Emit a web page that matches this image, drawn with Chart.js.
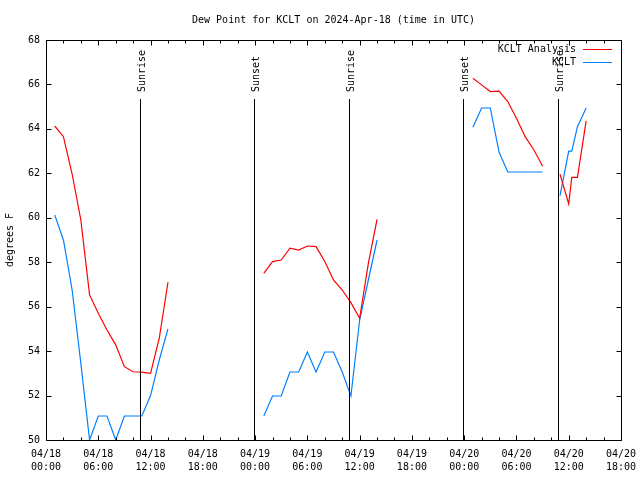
<!DOCTYPE html>
<html>
<head>
<meta charset="utf-8">
<script src="https://cdn.jsdelivr.net/npm/chart.js@4.4.1/dist/chart.umd.min.js"></script>
<style>
  html, body { margin: 0; padding: 0; background: #fff; }
</style>
</head>
<body>
<canvas id="dewChart" width="640" height="480"></canvas>
<script>
// hours since 04/18 00:00 UTC, one value per hour starting at firstHour
const firstHour = 1;
const analysisValues = [
  64.13, 63.65, 61.97, 59.9, 56.53, 55.7, 54.95, 54.28, 53.3, 53.07, 53.05, 53.0, 54.58, 57.1,
  null, null, null, null, null, null, null, null, null, null,
  57.5, 58.03, 58.1, 58.63, 58.55, 58.73, 58.7, 58.03, 57.2, 56.75, 56.18, 55.48, 57.95, 59.93,
  null, null, null, null, null, null, null, null, null, null,
  66.28, 65.98, 65.68, 65.7, 65.23, 64.48, 63.65, 63.05, 62.33,
  null,
  61.96, 60.62, 61.82, 64.36
];
const obsValues = [
  60.13, 59.0, 56.75, 53.45, 50.0, 51.08, 51.08, 50.0, 51.08, 51.08, 51.08, 52.0, 53.6, 55.0,
  null, null, null, null, null, null, null, null, null, null,
  51.08, 51.98, 51.98, 53.06, 53.06, 53.96, 53.06, 53.96, 53.96, 53.06, 51.98, 55.4, 57.2, 59.0,
  null, null, null, null, null, null, null, null, null, null,
  64.07, 64.94, 64.94, 62.96, 62.06, 62.06, 62.06, 62.06, 62.06,
  null,
  61.0, 63.0, 64.1, 64.94
];
// one off-hour report
const extraHours = [60.35];
const analysisExtra = [61.82];
const obsExtra = [63.0];

const sunHours = [10.8, 23.9, 34.8, 47.9, 58.8];
const sunLabels = ['Sunrise', 'Sunset', 'Sunrise', 'Sunset', 'Sunrise'];
const titleText = 'Dew Point for KCLT on 2024-Apr-18 (time in UTC)';
const startDay = 18;
const xMax = 66;
const yMin = 50, yMax = 68;

const FONT = 'DejaVu Sans Mono';
const pad2 = n => String(n).padStart(2, '0');

function toPoints(values, extra) {
  const pts = values.map((v, i) => ({ x: firstHour + i, y: v }));
  extraHours.forEach((h, i) => pts.push({ x: h, y: extra[i] }));
  return pts.sort((p, q) => p.x - q.x);
}

// gnuplot-like frame, inward ticks, sun markers, title and legend
const gnuFrame = {
  id: 'gnuFrame',
  afterDatasetsDraw(chart) {
    const { ctx, chartArea: a, scales: { x, y } } = chart;
    const L = Math.round(a.left) + 0.5, R = Math.round(a.right) + 0.5;
    const T = Math.round(a.top) + 0.5, B = Math.round(a.bottom) + 0.5;
    ctx.save();
    ctx.strokeStyle = '#000';
    ctx.lineWidth = 1;
    ctx.beginPath();
    ctx.rect(L, T, R - L, B - T);

    // x ticks: major every 6h, minor every 2h
    for (let h = 0; h <= xMax; h += 2) {
      const px = Math.round(x.getPixelForValue(h)) + 0.5;
      const len = h % 6 === 0 ? 5 : 3;
      ctx.moveTo(px, B); ctx.lineTo(px, B - len);
      ctx.moveTo(px, T); ctx.lineTo(px, T + len);
    }
    // y ticks
    for (let v = yMin; v <= yMax; v += 2) {
      const py = Math.round(y.getPixelForValue(v)) + 0.5;
      ctx.moveTo(L, py); ctx.lineTo(L + 5, py);
      ctx.moveTo(R, py); ctx.lineTo(R - 5, py);
    }
    ctx.stroke();

    ctx.font = '10px "' + FONT + '"';
    ctx.fillStyle = '#000';

    // title, centred over the plot
    ctx.textAlign = 'center';
    ctx.textBaseline = 'middle';
    ctx.fillText(titleText, (a.left + a.right) / 2, 20);

    // sunrise / sunset markers
    sunHours.forEach((h, i) => {
      const px = Math.round(x.getPixelForValue(h)) + 0.5;
      ctx.beginPath();
      ctx.moveTo(px, a.top + 59);
      ctx.lineTo(px, B);
      ctx.stroke();
      ctx.save();
      ctx.translate(px + 4, a.top + 52);
      ctx.rotate(-Math.PI / 2);
      ctx.textAlign = 'left';
      ctx.textBaseline = 'alphabetic';
      ctx.fillText(sunLabels[i], 0, 0);
      ctx.restore();
    });

    // legend
    ctx.textAlign = 'right';
    ctx.textBaseline = 'middle';
    chart.data.datasets.forEach((ds, i) => {
      const ly = Math.round(a.top + 9 + i * 13) + 0.5;
      ctx.fillStyle = '#000';
      ctx.fillText(ds.label, a.right - 45, ly);
      ctx.strokeStyle = ds.borderColor;
      ctx.beginPath();
      ctx.moveTo(a.right - 38, ly);
      ctx.lineTo(a.right - 9, ly);
      ctx.stroke();
    });
    ctx.restore();
  }
};

new Chart(document.getElementById('dewChart').getContext('2d'), {
  type: 'line',
  data: {
    datasets: [
      {
        label: 'KCLT Analysis',
        data: toPoints(analysisValues, analysisExtra),
        borderColor: '#ff0000',
        borderWidth: 1.2,
        pointRadius: 0,
        tension: 0,
        spanGaps: false,
        fill: false
      },
      {
        label: 'KCLT',
        data: toPoints(obsValues, obsExtra),
        borderColor: '#0080ff',
        borderWidth: 1.2,
        pointRadius: 0,
        tension: 0,
        spanGaps: false,
        fill: false
      }
    ]
  },
  options: {
    responsive: false,
    animation: false,
    layout: { padding: { top: 40, right: 19, bottom: 0, left: 0 } },
    plugins: {
      legend: { display: false },
      tooltip: { enabled: false },
      title: { display: false }
    },
    scales: {
      x: {
        type: 'linear',
        min: 0,
        max: xMax,
        grid: { display: false, drawTicks: false },
        border: { display: false },
        afterFit: s => { s.height = 40; s.paddingLeft = 0; s.paddingRight = 0; },
        ticks: {
          stepSize: 6,
          autoSkip: false,
          maxRotation: 0,
          padding: 8,
          color: '#000',
          font: { family: FONT, size: 10, lineHeight: 1.3 },
          callback: v => [
            '04/' + pad2(startDay + Math.floor(v / 24)),
            pad2(v % 24) + ':00'
          ]
        }
      },
      y: {
        min: yMin,
        max: yMax,
        grid: { display: false, drawTicks: false },
        border: { display: false },
        afterFit: s => { s.width = 46; s.paddingTop = 0; s.paddingBottom = 0; },
        title: {
          display: true,
          text: 'degrees F',
          color: '#000',
          font: { family: FONT, size: 10 },
          padding: { top: 4, bottom: 0 }
        },
        ticks: {
          stepSize: 2,
          padding: 6,
          color: '#000',
          font: { family: FONT, size: 10 }
        }
      }
    }
  },
  plugins: [gnuFrame]
});
</script>
</body>
</html>
